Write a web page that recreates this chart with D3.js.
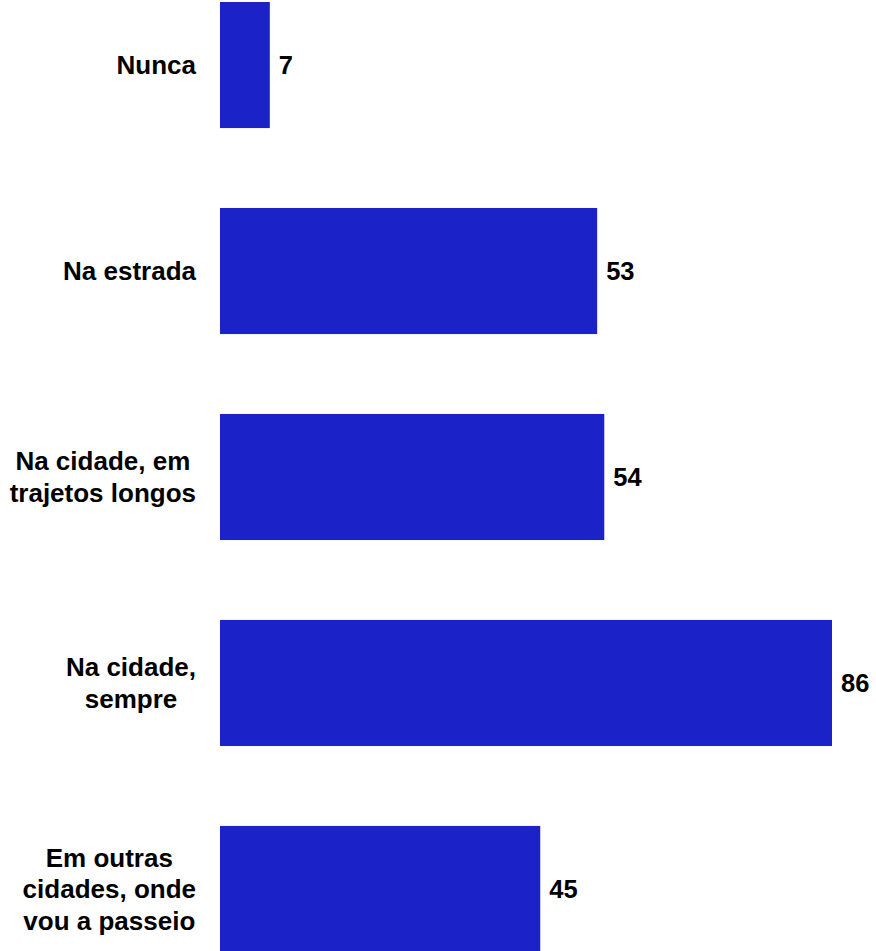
<!DOCTYPE html>
<html>
<head>
<meta charset="utf-8">
<script src="https://cdn.jsdelivr.net/npm/d3@7"></script>
<style>
  html, body { margin: 0; padding: 0; background: #fff; }
  svg { display: block; }
  text { font-family: "Liberation Sans", Arial, sans-serif; font-weight: bold; fill: #000; }
</style>
</head>
<body>
<svg id="chart"></svg>
<script>
const categories = ["Nunca", "Na estrada", "Na cidade, em trajetos longos", "Na cidade, sempre", "Em outras cidades, onde vou a passeio"];
const labelLines = [["Nunca"], ["Na estrada"], ["Na cidade, em", "trajetos longos"], ["Na cidade,", "sempre"], ["Em outras", "cidades, onde", "vou a passeio"]];
const values = [7, 53, 54, 86, 45];

const width = 876, height = 951;
const svg = d3.select("#chart").attr("width", width).attr("height", height);

const x = d3.scaleLinear().domain([0, 86]).range([220, 832]);
const y = d3.scaleBand().domain(categories).range([2, 952]).paddingInner(0.388).paddingOuter(0);

// bars
svg.append("g").selectAll("rect")
    .data(categories)
    .enter().append("rect")
    .attr("x", x(0))
    .attr("y", d => y(d))
    .attr("width", (d, i) => x(values[i]) - x(0))
    .attr("height", y.bandwidth())
    .attr("fill", "#1a22c8");

// value labels
svg.append("g").selectAll("text")
    .data(categories)
    .enter().append("text")
    .attr("x", (d, i) => x(values[i]) + 9)
    .attr("y", d => y(d) + y.bandwidth() / 2)
    .attr("dy", "0.35em")
    .style("font-size", "25.5px")
    .text((d, i) => values[i]);

// category labels: lines centred, block right-aligned to x=196
const lineH = 31.5;
const labels = svg.append("g").selectAll("text")
    .data(categories)
    .enter().append("text")
    .attr("text-anchor", "middle")
    .style("font-size", "26px");

labels.each(function(d, i) {
    const lines = labelLines[i];
    const t = d3.select(this);
    let maxW = 0;
    lines.forEach((ln, k) => {
        const sp = t.append("tspan")
            .attr("x", 0)
            .attr("y", (k - (lines.length - 1) / 2) * lineH)
            .attr("dy", "0.35em")
            .text(ln);
        maxW = Math.max(maxW, sp.node().getComputedTextLength());
    });
    t.attr("transform", `translate(${196 - maxW / 2},${y(d) + y.bandwidth() / 2})`);
});
</script>
</body>
</html>
